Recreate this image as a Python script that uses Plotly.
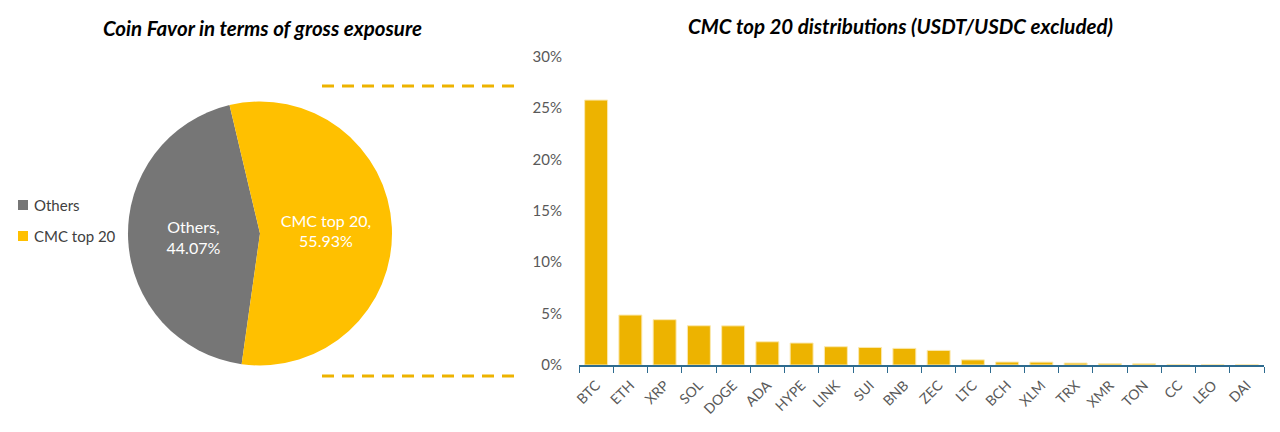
import plotly.graph_objects as go

# pie data
pie_labels = ["Others", "CMC top 20"]
pie_values = [44.07, 55.93]
pie_colors = ["#767676", "#FFC000"]

# bar data (share of gross exposure)
coins = ["BTC", "ETH", "XRP", "SOL", "DOGE", "ADA", "HYPE", "LINK", "SUI", "BNB",
         "ZEC", "LTC", "BCH", "XLM", "TRX", "XMR", "TON", "CC", "LEO", "DAI"]
shares = [0.2578, 0.0486, 0.0441, 0.0382, 0.0381, 0.0226, 0.0214, 0.0178, 0.0171, 0.0162,
          0.0142, 0.0050, 0.0029, 0.0028, 0.0019, 0.0013, 0.0012, 0.0003, 0.0002, 0.0002]

y_ticks = [0, 0.05, 0.10, 0.15, 0.20, 0.25, 0.30]

font_family = "Lato, Open Sans, sans-serif"
W, H = 1280, 432

fig = go.Figure()

fig.add_trace(go.Pie(
    labels=pie_labels,
    values=pie_values,
    marker=dict(colors=pie_colors),
    sort=False,
    direction="clockwise",
    rotation=-172,
    texttemplate="%{label},<br>%{value:.2f}%",
    textposition="inside",
    insidetextorientation="horizontal",
    textfont=dict(color="white", size=16, family=font_family),
    domain=dict(x=[128 / W, 392 / W], y=[1 - 366 / H, 1 - 101 / H]),
    hoverinfo="label+value",
    showlegend=False,
))

fig.add_trace(go.Bar(
    x=coins,
    y=shares,
    marker=dict(color="#EDB300", line=dict(color="#FBE9B0", width=1)),
    width=0.67,
    showlegend=False,
))

# hand-made legend for the pie (wider spacing than plotly's own)
legend_y = [205, 236]
shapes = []
annotations = []
for lab, col, yy in zip(pie_labels, pie_colors, legend_y):
    shapes.append(dict(type="rect", xref="paper", yref="paper",
                       x0=18 / W, x1=28 / W, y0=1 - (yy + 5) / H, y1=1 - (yy - 5) / H,
                       fillcolor=col, line=dict(width=0)))
    annotations.append(dict(text=lab, x=32 / W, y=1 - yy / H, xref="paper", yref="paper",
                            xanchor="left", yanchor="middle", showarrow=False,
                            font=dict(size=15, color="#404040")))

for yy in [86, 376]:
    shapes.append(dict(type="line", xref="paper", yref="paper",
                       x0=322 / W, x1=522 / W, y0=1 - yy / H, y1=1 - yy / H,
                       line=dict(color="#EDB300", width=3, dash="12px,8px")))

annotations += [
    dict(text="<b><i>Coin Favor in terms of gross exposure</i></b>",
         x=262 / W, y=1 - 28 / H, xref="paper", yref="paper",
         xanchor="center", yanchor="middle",
         showarrow=False, font=dict(size=20.5, color="black")),
    dict(text="<b><i>CMC top 20 distributions (USDT/USDC excluded)</i></b>",
         x=900 / W, y=1 - 26 / H, xref="paper", yref="paper",
         xanchor="center", yanchor="middle",
         showarrow=False, font=dict(size=20.5, color="black")),
]

fig.update_layout(
    width=W,
    height=H,
    margin=dict(l=0, r=0, t=0, b=0, pad=0, autoexpand=False),
    paper_bgcolor="white",
    plot_bgcolor="white",
    font=dict(family=font_family, color="#595959"),
    showlegend=False,
    xaxis=dict(
        domain=[579 / W, 1264 / W],
        type="category",
        automargin=False,
        showline=True, linecolor="#2E6B8F", linewidth=1.5,
        ticks="outside", tickson="boundaries", ticklen=6, tickcolor="#2E6B8F",
        tickangle=-45,
        ticklabelstandoff=5,
        tickfont=dict(size=14, color="#595959"),
        showgrid=False,
    ),
    yaxis=dict(
        domain=[1 - 365 / H, 1 - 56.7 / H],
        range=[0, 0.30],
        automargin=False,
        tickvals=y_ticks,
        tickformat=".0%",
        ticklabelstandoff=16,
        tickfont=dict(size=15, color="#595959"),
        showgrid=False,
        zeroline=False,
        showline=False,
        ticks="",
    ),
    bargap=0.33,
    annotations=annotations,
    shapes=shapes,
)

fig.write_html("out.html", config={"displayModeBar": False},
               post_script="document.body.style.margin='0px';")
